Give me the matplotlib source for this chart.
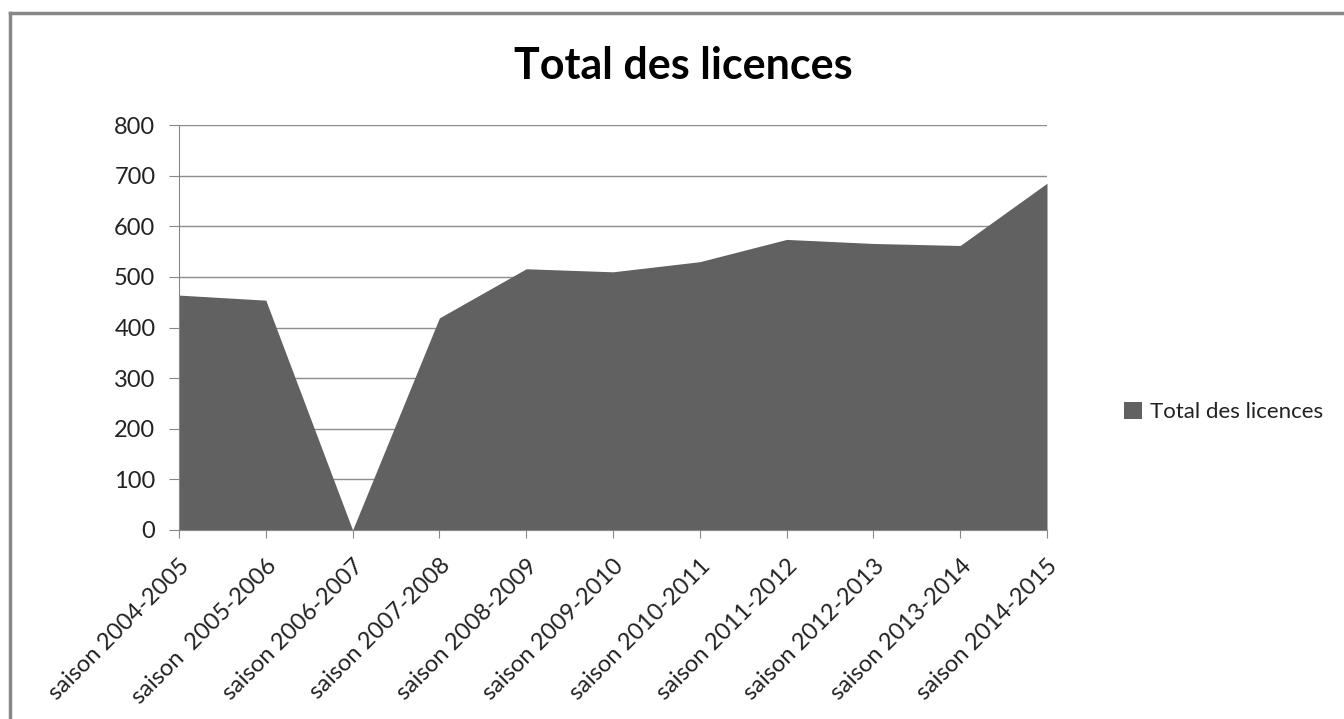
import matplotlib.pyplot as plt
from matplotlib.lines import Line2D

# data
saisons = ['saison 2004-2005', 'saison  2005-2006', 'saison 2006-2007', 'saison 2007-2008',
           'saison 2008-2009', 'saison 2009-2010', 'saison 2010-2011', 'saison 2011-2012',
           'saison 2012-2013', 'saison 2013-2014', 'saison 2014-2015']
licences = [464, 454, 0, 419, 516, 510, 530, 574, 566, 562, 685]
y_ticks = [0, 100, 200, 300, 400, 500, 600, 700, 800]

plt.rcParams['font.family'] = ['Lato', 'DejaVu Sans']

fig = plt.figure(figsize=(13.44, 7.19), dpi=100)
ax = fig.add_axes([179 / 1344, 1 - 530 / 719, (1047 - 179) / 1344, (530 - 125) / 719])

x = list(range(len(saisons)))
ax.fill_between(x, licences, 0, color='#616161', linewidth=0, label='Total des licences', zorder=3)

ax.set_xlim(0, len(saisons) - 1)
ax.set_ylim(0, 800)
ax.set_yticks(y_ticks)
ax.set_xticks(x)
ax.set_xticklabels(saisons, rotation=45, ha='right', rotation_mode='anchor', fontsize=17)
ax.tick_params(axis='y', labelsize=17, length=7, color='#888888', pad=10, labelcolor='#222222')
ax.tick_params(axis='x', length=6, color='#888888', pad=12, labelcolor='#222222')
ax.grid(axis='y', color='#8c8c8c', linewidth=1, zorder=1)

for s in ['top', 'right']:
    ax.spines[s].set_visible(False)
for s in ['left', 'bottom']:
    ax.spines[s].set_color('#888888')
    ax.spines[s].set_zorder(4)

fig.text(683 / 1344, 1 - 66 / 719, 'Total des licences', ha='center', va='center',
         fontsize=31, fontweight='bold')

fig.legend(loc='center left', bbox_to_anchor=(1104 / 1344, 1 - 412 / 719), frameon=False,
           fontsize=16, handlelength=0.8, handleheight=0.8, handletextpad=0.35,
           labelcolor='#222222')

# chart area border (only top and left are visible in the crop)
fig.add_artist(Line2D([10 / 1344, 10 / 1344], [0, 1 - 13 / 719], transform=fig.transFigure,
                      color='#888888', linewidth=2.5))
fig.add_artist(Line2D([10 / 1344, 1], [1 - 13 / 719, 1 - 13 / 719], transform=fig.transFigure,
                      color='#888888', linewidth=2.5))

fig.savefig('out.png', dpi=100)
